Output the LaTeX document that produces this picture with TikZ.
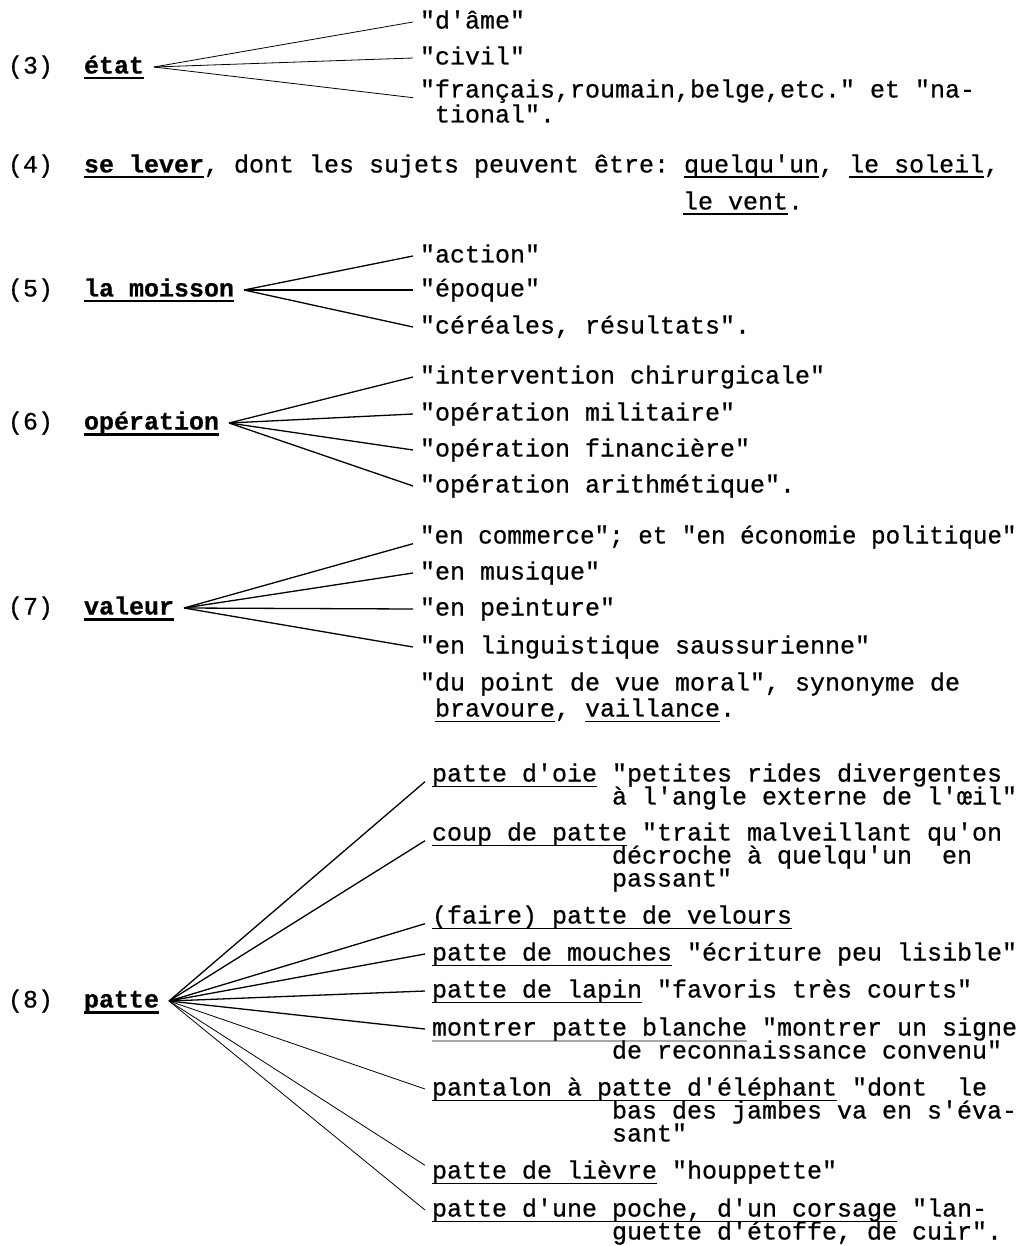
\documentclass[tikz,border=0pt]{standalone}
\usepackage{fontspec}
\setmonofont{Liberation Mono}[FakeBold=0.6]
% typewriter underlines
\newsavebox{\tulbox}
\newcommand{\tul}[1]{\sbox\tulbox{#1}\rlap{\rule[-5.5pt]{\wd\tulbox}{1.5pt}}\usebox\tulbox}
\newcommand{\hul}[1]{\sbox\tulbox{#1}\rlap{\rule[-6pt]{\wd\tulbox}{2.4pt}}\usebox\tulbox}
\newcommand{\gul}[1]{\sbox\tulbox{#1}\rlap{\textcolor{black!35}{\rule[-6.5pt]{\wd\tulbox}{2.4pt}}}\usebox\tulbox}

\tikzset{
  tw/.style={font=\ttfamily\fontsize{25}{30}\selectfont},
  entry/.style={tw, anchor=west, inner sep=0pt, outer xsep=7pt, text height=13pt, text depth=0pt},
  head/.style={entry, font=\ttfamily\bfseries\fontsize{25}{30}\selectfont, outer xsep=10pt},
  branch/.style={line width=1.3pt},
  twig/.style={line width=0.8pt}
}

\begin{document}
\begin{tikzpicture}[x=1pt,y=-1pt]
\useasboundingbox (0,0) rectangle (1023,1246);

% (3)
\node[entry] (num3) at (1,67) {(3)};
\node[head] (etat) at (74,67) {\hul{état}};
\node[entry] (ame) at (413,22) {"d'âme"};
\node[entry] (civil) at (413,58) {"civil"};
\node[entry] (fran) at (413,91) {"français,roumain,belge,etc." et "na-};
\node[entry] (fran2) at (428,116) {tional".};

% (4)
\node[entry] (num4) at (1,166) {(4)};
\node[entry] (lever) at (77,166) {\hul{\textbf{se lever}}, dont les sujets peuvent être: \tul{quelqu'un}, \tul{le soleil},};
\node[entry] (vent) at (676,203) {\tul{le vent}.};

% (5)
\node[entry] (num5) at (1,290) {(5)};
\node[head] (moisson) at (74,290) {\hul{la moisson}};
\node[entry] (action) at (413,256) {"action"};
\node[entry] (epoque) at (413,290) {"époque"};
\node[entry] (cereales) at (413,327) {"céréales, résultats".};

% (6)
\node[entry] (num6) at (1,423) {(6)};
\node[head] (operation) at (74,423) {\hul{opération}};
\node[entry] (chir) at (413,377) {"intervention chirurgicale"};
\node[entry] (milit) at (413,414) {"opération militaire"};
\node[entry] (finan) at (413,450) {"opération financière"};
\node[entry] (arith) at (413,486) {"opération arithmétique".};

% (7)
\node[entry] (num7) at (1,608) {(7)};
\node[head] (valeur) at (74,608) {\hul{valeur}};
\node[entry] (commerce) at (413,537) {\scalebox{0.97}[1]{"en commerce"; et "en économie politique"}};
\node[entry] (musique) at (413,573) {"en musique"};
\node[entry] (peinture) at (413,609) {"en peinture"};
\node[entry] (ling) at (413,647) {"en linguistique saussurienne"};
\node[entry] (moral) at (413,684) {"du point de vue moral", synonyme de};
\node[entry] (moral2) at (428,710) {\tul{bravoure}, \tul{vaillance}.};

% (8)
\node[entry] (num8) at (1,1001) {(8)};
\node[head] (patte) at (74,1001) {\hul{patte}};
\node[entry] (oie) at (425,775) {\tul{patte d'oie} "petites rides divergentes};
\node[entry] (oie2) at (605,798) {à l'angle externe de l'œil"};
\node[entry] (coup) at (425,834) {\tul{coup de patte} "trait malveillant qu'on};
\node[entry] (coup2) at (605,857) {décroche à quelqu'un~~en};
\node[entry] (coup3) at (605,880) {passant"};
\node[entry] (velours) at (425,917) {\tul{(faire) patte de velours}};
\node[entry] (mouches) at (425,954) {\tul{patte de mouches} "écriture peu lisible"};
\node[entry] (lapin) at (425,991) {\tul{patte de lapin} "favoris très courts"};
\node[entry] (blanche) at (425,1029) {\gul{montrer patte blanche} "montrer un signe};
\node[entry] (blanche2) at (605,1052) {de reconnaissance convenu"};
\node[entry] (pantalon) at (425,1089) {\tul{pantalon à patte d'éléphant} "dont~~le};
\node[entry] (pantalon2) at (605,1112) {bas des jambes va en s'éva-};
\node[entry] (pantalon3) at (605,1135) {sant"};
\node[entry] (lievre) at (425,1172) {\tul{patte de lièvre} "houppette"};
\node[entry] (poche) at (425,1210) {\tul{patte d'une poche, d'un corsage} "lan-};
\node[entry] (poche2) at (605,1233) {guette d'étoffe, de cuir".};

\draw [twig] (etat.east) -- (ame.west);
\draw [twig] (etat.east) -- (civil.west);
\draw [twig] (etat.east) -- (fran.south west);

\draw [branch] (moisson.east) -- (action.west);
\draw [branch] (moisson.east) -- (epoque.west);
\draw [branch] (moisson.east) -- (cereales.west);

\draw [branch] (operation.east) -- (chir.west);
\draw [branch] (operation.east) -- (milit.west);
\draw [branch] (operation.east) -- (finan.west);
\draw [branch] (operation.east) -- (arith.west);

\draw [branch] (valeur.east) -- (commerce.south west);
\draw [branch] (valeur.east) -- (musique.west);
\draw [branch] (valeur.east) -- (peinture.west);
\draw [branch] (valeur.east) -- (ling.west);

\draw [branch] (patte.east) -- (oie.south west);
\draw [branch] (patte.east) -- (coup.south west);
\draw [branch] (patte.east) -- (velours.south west);
\draw [branch] (patte.east) -- (mouches.west);
\draw [branch] (patte.east) -- (lapin.west);
\draw [branch] (patte.east) -- (blanche.west);
\draw [twig] (patte.east) -- (pantalon.west);
\draw [twig] (patte.east) -- (lievre.north west);
\draw [twig] (patte.east) -- (poche.west);
\end{tikzpicture}
\end{document}
